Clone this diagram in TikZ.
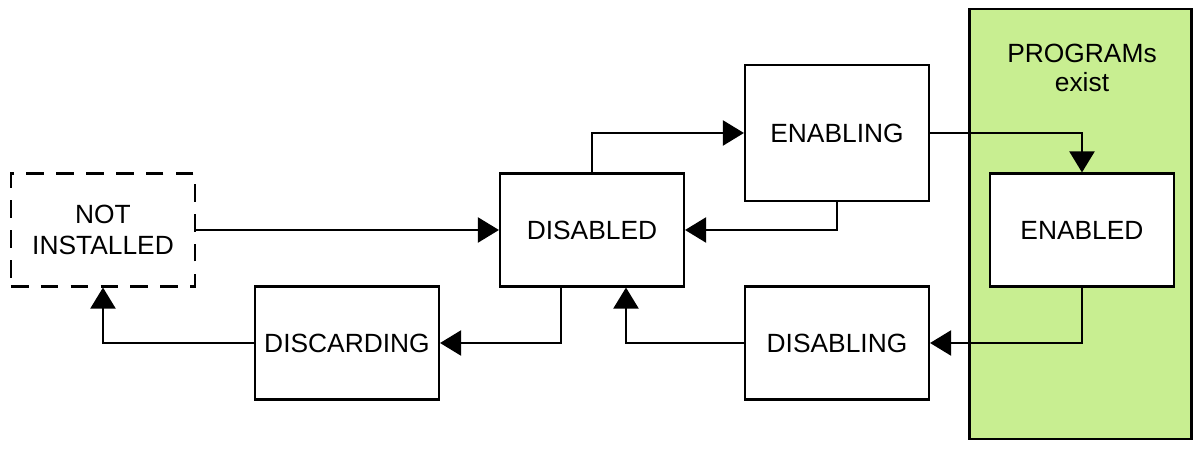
\documentclass[tikz,border=0pt]{standalone}
\usepackage{fontspec}
\setmainfont{Liberation Sans}
\usepackage{tikz}
\usetikzlibrary{arrows.meta, positioning}

\definecolor{progsgreen}{RGB}{200,238,145}

\begin{document}
\begin{tikzpicture}[-{Triangle[length=4.2mm, width=5mm]}, line width=1.2pt, node distance=2.26cm, on grid,
                    box/.style={draw, fill=white, minimum width=3.68cm, minimum height=2.26cm, align=center,
                                font=\fontsize{15pt}{17.5pt}\selectfont}]

                        \useasboundingbox (-11.84,-4.44) rectangle (12.02,4.6);

                        % Region where the programs exist
                        \node (progs) [draw, fill=progsgreen, minimum width=4.44cm, minimum height=8.6cm] at (9.77,0.12) {};
                        \node (progslabel) [align=center, font=\fontsize{15pt}{16.5pt}\selectfont] at (9.8,3.24) {PROGRAMs\\exist};

                        % States
                        \node (dis) [box] {DISABLED};
                        \node (ni) [box, dashed, dash pattern=on 10pt off 7pt, left=9.78cm of dis] {NOT\\INSTALLED};
                        \node (enabled) [box, right=9.8cm of dis] {ENABLED};
                        \node (enabling) [box, minimum height=2.72cm, above right=1.94cm and 4.9cm of dis] {ENABLING};
                        \node (disabling) [box, below right=2.26cm and 4.9cm of dis] {DISABLING};
                        \node (discard) [box, below left=2.26cm and 4.9cm of dis] {DISCARDING};

                        % Transitions
                        \draw (ni.east) -- (dis.west);
                        \draw (dis.north) |- (enabling.west);
                        \draw (enabling.south) |- (dis.east);
                        \draw (enabling.east) -| (enabled.north);
                        \draw (enabled.south) |- (disabling.east);
                        \draw (disabling.west) -| ([xshift=0.68cm]dis.south);
                        \draw ([xshift=-0.62cm]dis.south) |- (discard.east);
                        \draw (discard.west) -| (ni.south);
                \end{tikzpicture}
\end{document}
